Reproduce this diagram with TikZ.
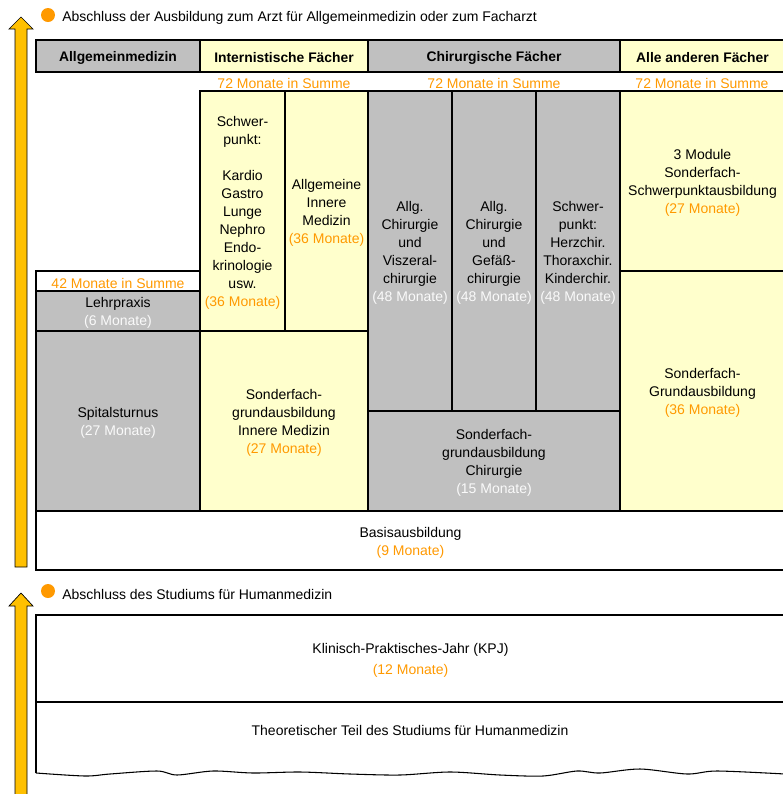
\documentclass[tikz,border=0pt]{standalone}
\usepackage{fontspec}
\setmainfont{Liberation Sans}
\definecolor{grau}{HTML}{C0C0C0}
\definecolor{gelb}{HTML}{FFFFCC}
\definecolor{monat}{HTML}{FF9900}
\definecolor{pfeilgelb}{HTML}{FFC000}
\newcommand{\dauer}[1]{\textcolor{monat}{(#1 Monate)}}
\newcommand{\dauerw}[1]{\textcolor{white!92!grau}{(#1 Monate)}}
\tikzset{
  feld/.style={draw=black, line width=1.1pt},
  txt/.style={align=center, font=\fontsize{10.5}{13.5}\selectfont, inner sep=0pt, yshift=-1.5pt},
  kopf/.style={txt, font=\fontsize{10.4}{13.5}\selectfont\bfseries},
  summe/.style={txt, text=monat},
  punkt/.style={circle, fill=monat, minimum size=10.5pt, inner sep=0pt},
  ziel/.style={txt, anchor=west},
  pfeil/.style={fill=pfeilgelb, draw=black, line width=0.5pt}
}
\begin{document}
\begin{tikzpicture}[x=0.75pt, y=-0.75pt]
  \useasboundingbox (0,0) rectangle (783,794);
  \clip (0,0) rectangle (783,794);

  % Pfeile
  \draw[pfeil] (15,567) -- (15,29) -- (9,29) -- (21,17) -- (33,29) -- (27,29) -- (27,567) -- cycle;
  \draw[pfeil] (15,800) -- (15,606) -- (9,606) -- (21,593) -- (33,606) -- (27,606) -- (27,800) -- cycle;

  % Abschluesse
  \node[punkt] (p1) at (48,15) {};
  \node[ziel] (z1) at (62,16) {Abschluss der Ausbildung zum Arzt für Allgemeinmedizin oder zum Facharzt};
  \node[punkt] (p2) at (48,591) {};
  \node[ziel] (z2) at (62,592) {Abschluss des Studiums für Humanmedizin};

  % Kopfzeile
  \draw[feld, fill=grau] (36,40) rectangle (200,72) node[midway, kopf] (hAllg) {Allgemeinmedizin};
  \draw[feld, fill=gelb] (200,40) rectangle (368,72) node[midway, kopf] (hInt) {Internistische Fächer};
  \draw[feld, fill=grau] (368,40) rectangle (620,72) node[midway, kopf] (hChir) {Chirurgische Fächer};
  \draw[feld, fill=gelb] (620,40) rectangle (785,72) node[midway, kopf] (hAnd) {Alle anderen Fächer};
  \draw[line width=1.8pt] (36,40) rectangle (785,72);

  \node[summe] (sInt) at (284,81) {72 Monate in Summe};
  \node[summe] (sChir) at (494,81) {72 Monate in Summe};
  \node[summe] (sAnd) at (702,81) {72 Monate in Summe};

  % Allgemeinmedizin
  \draw[feld, fill=white] (36,271) rectangle (200,291) node[midway, summe] (sAllg) {42 Monate in Summe};
  \draw[feld, fill=grau] (36,291) rectangle (200,331) node[midway, txt] (lehr) {Lehrpraxis\\\dauerw{6}};
  \draw[feld, fill=grau] (36,331) rectangle (200,511) node[midway, txt] (spital) {Spitalsturnus\\\dauerw{27}};

  % Internistische Faecher
  \draw[feld, fill=gelb] (200,91) rectangle (285,331) node[midway, txt] (schwInt)
    {Schwer-\\punkt:\\[13.5pt]Kardio\\Gastro\\Lunge\\Nephro\\Endo-\\krinologie\\usw.\\\dauer{36}};
  \draw[feld, fill=gelb] (285,91) rectangle (368,331) node[midway, txt] (aim)
    {Allgemeine\\Innere\\Medizin\\\dauer{36}};
  \draw[feld, fill=gelb] (200,331) rectangle (368,511) node[midway, txt] (grundInt)
    {Sonderfach-\\grundausbildung\\Innere Medizin\\\dauer{27}};

  % Chirurgische Faecher
  \draw[feld, fill=grau] (368,91) rectangle (452,411) node[midway, txt] (visz)
    {Allg.\\Chirurgie\\und\\Viszeral-\\chirurgie\\\dauerw{48}};
  \draw[feld, fill=grau] (452,91) rectangle (536,411) node[midway, txt] (gef)
    {Allg.\\Chirurgie\\und\\Gefäß-\\chirurgie\\\dauerw{48}};
  \draw[feld, fill=grau] (536,91) rectangle (620,411) node[midway, txt] (schwChir)
    {Schwer-\\punkt:\\Herzchir.\\Thoraxchir.\\Kinderchir.\\\dauerw{48}};
  \draw[feld, fill=grau] (368,411) rectangle (620,511) node[midway, txt] (grundChir)
    {Sonderfach-\\grundausbildung\\Chirurgie\\\dauerw{15}};

  % Alle anderen Faecher
  \draw[feld, fill=gelb] (620,91) rectangle (785,271) node[midway, txt] (module)
    {3 Module\\Sonderfach-\\Schwerpunktausbildung\\\dauer{27}};
  \draw[feld, fill=gelb] (620,271) rectangle (785,511) node[midway, txt] (grundAnd)
    {Sonderfach-\\Grundausbildung\\\dauer{36}};

  % Basisausbildung
  \draw[feld, fill=white] (36,511) rectangle (785,570) node[midway, txt] (basis)
    {Basisausbildung\\\dauer{9}};

  % Studium
  \draw[feld] (36,615) rectangle (785,702) node[midway, txt] (kpj)
    {Klinisch-Praktisches-Jahr (KPJ)\\[2pt]\dauer{12}};
  \draw[feld] (36,702) -- (36,773);
  \draw[line width=0.8pt] plot[smooth] coordinates {(36,773) (85,776) (110,774) (157,771) (177,775) (213,771)
    (253,773) (300,772) (350,774) (400,775) (450,772) (500,775) (543,776) (577,771) (600,773)
    (640,769) (687,774) (717,771) (785,774)};
  \node[txt] (theorie) at (410,728) {Theoretischer Teil des Studiums für Humanmedizin};
\end{tikzpicture}
\end{document}
